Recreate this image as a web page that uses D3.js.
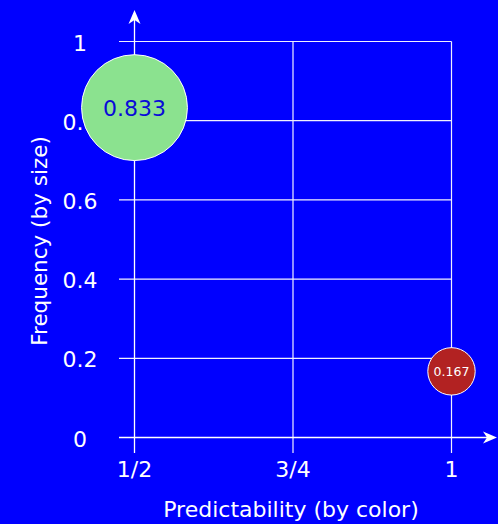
<!DOCTYPE html>
<html>
<head>
<meta charset="utf-8">
<script src="https://cdn.jsdelivr.net/npm/d3@7"></script>
<style>
  html, body { margin: 0; padding: 0; background: #0000ff; }
  svg { display: block; }
</style>
</head>
<body>
<svg id="chart" width="498" height="524"></svg>
<script>
// Predictability (x) vs frequency (y); bubble area encodes frequency
const xValues = [0.5, 1];
const yValues = [0.833, 0.167];
const labels = ["0.833", "0.167"];
const colors = ["#8be28f", "#b22222"];
const labelColors = ["#0a0ad8", "#ffffff"];
const labelSizes = [22, 12.5];

const xTicks = [0.5, 0.75, 1];
const xTickLabels = ["1/2", "3/4", "1"];
const yTicks = [0, 0.2, 0.4, 0.6, 0.8, 1];
const yTickLabels = ["0", "0.2", "0.4", "0.6", "0.8", "1"];

const svg = d3.select("#chart");
const font = "'DejaVu Sans', sans-serif";

const x = d3.scaleLinear().domain([0.5, 1]).range([134.5, 451.5]);
const y = d3.scaleLinear().domain([0, 1]).range([437.5, 41.5]);
const r = d3.scaleSqrt().domain([0, 1]).range([0, 58]);

const line = "#ffffff";
const grid = "#f0f0ff";

// horizontal grid
svg.append("g").selectAll("line").data(yTicks).join("line")
  .attr("x1", 119).attr("x2", x(1))
  .attr("y1", d => y(d)).attr("y2", d => y(d))
  .attr("stroke", grid).attr("stroke-width", 1.2);

// vertical grid
svg.append("g").selectAll("line").data(xTicks.slice(1)).join("line")
  .attr("x1", d => x(d)).attr("x2", d => x(d))
  .attr("y1", y(1)).attr("y2", 453)
  .attr("stroke", grid).attr("stroke-width", 1.2);

// axes with arrow heads
svg.append("line").attr("x1", x(0.5)).attr("x2", x(0.5)).attr("y1", 453).attr("y2", 14)
  .attr("stroke", line).attr("stroke-width", 1.3);
svg.append("line").attr("x1", 119).attr("x2", 492).attr("y1", y(0)).attr("y2", y(0))
  .attr("stroke", line).attr("stroke-width", 1.3);

const ax = x(0.5);
svg.append("path")
  .attr("d", `M${ax},10 L${ax + 6},24 L${ax},20 L${ax - 6},24 Z`)
  .attr("fill", line);
const ay = y(0);
svg.append("path")
  .attr("d", `M497,${ay} L483,${ay - 6} L487,${ay} L483,${ay + 6} Z`)
  .attr("fill", line);

// tick labels
svg.append("g").selectAll("text").data(yTicks).join("text")
  .attr("x", 80).attr("y", d => y(d) + 9)
  .attr("text-anchor", "middle")
  .attr("font-family", font).attr("font-size", 22)
  .attr("fill", "#ffffff")
  .text((d, i) => yTickLabels[i]);

svg.append("g").selectAll("text").data(xTicks).join("text")
  .attr("x", d => x(d)).attr("y", 477)
  .attr("text-anchor", "middle")
  .attr("font-family", font).attr("font-size", 22)
  .attr("fill", "#ffffff")
  .text((d, i) => xTickLabels[i]);

// axis titles
svg.append("text")
  .attr("x", 291).attr("y", 517)
  .attr("text-anchor", "middle")
  .attr("font-family", font).attr("font-size", 22)
  .attr("fill", "#ffffff")
  .text("Predictability (by color)");

svg.append("text")
  .attr("transform", "translate(47,241) rotate(-90)")
  .attr("text-anchor", "middle")
  .attr("font-family", font).attr("font-size", 21.5)
  .attr("fill", "#ffffff")
  .text("Frequency (by size)");

// bubbles
const data = xValues.map((xv, i) => ({ x: xv, y: yValues[i], label: labels[i], color: colors[i], lc: labelColors[i], ls: labelSizes[i] }));

const g = svg.append("g").selectAll("g").data(data).join("g")
  .attr("transform", d => `translate(${x(d.x)},${y(d.y)})`);
g.append("circle")
  .attr("r", d => r(d.y))
  .attr("fill", d => d.color)
  .attr("stroke", "#ffffff").attr("stroke-width", 1);
g.append("text")
  .attr("text-anchor", "middle").attr("dy", "0.36em")
  .attr("font-family", font)
  .attr("font-size", d => d.ls)
  .attr("fill", d => d.lc)
  .text(d => d.label);
</script>
</body>
</html>
